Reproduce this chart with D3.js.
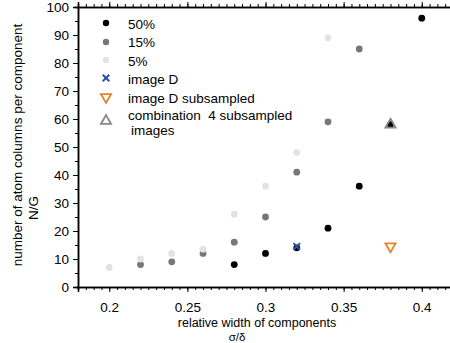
<!DOCTYPE html>
<html>
<head>
<meta charset="utf-8">
<script src="https://cdn.jsdelivr.net/npm/d3@7"></script>
<style>
body { margin: 0; background: #fff; }
text { font-family: "Liberation Sans", Arial, sans-serif; fill: #000; }
</style>
</head>
<body>
<script>
'use strict';

// concentration series: x = relative width, y = N/G
var x50 = [0.28, 0.30, 0.32, 0.34, 0.36, 0.38, 0.40];
var y50 = [8, 12, 14, 21, 36, 58, 96];
var x15 = [0.22, 0.24, 0.26, 0.28, 0.30, 0.32, 0.34, 0.36];
var y15 = [8, 9, 12, 16, 25, 41, 59, 85];
var x5 = [0.20, 0.22, 0.24, 0.26, 0.28, 0.30, 0.32, 0.34];
var y5 = [7, 10, 12, 13.5, 26, 36, 48, 89];

// image measurements
var xImgD = [0.32], yImgD = [14.5];
var xSub = [0.38], ySub = [14.5];
var xComb = [0.38], yComb = [58];

var xTicks = [0.2, 0.25, 0.3, 0.35, 0.4];
var yTicks = [0, 10, 20, 30, 40, 50, 60, 70, 80, 90, 100];

var legendLabels = ['50%', '15%', '5%', 'image D', 'image D subsampled', 'combination  4 subsampled'];

var w = 450, h = 343;
var svg = d3.select('body').append('svg').attr('width', w).attr('height', h);

var x = d3.scaleLinear().domain([0.18, 0.42]).range([78, 453]);
var y = d3.scaleLinear().domain([0, 100]).range([287, 7]);

var minorX = d3.range(0.18, 0.4201, 0.005);
var minorY = d3.range(0, 101, 5);

// bottom axis
var gb = svg.append('g').attr('transform', 'translate(0,287)');
gb.call(d3.axisBottom(x).tickValues(minorX).tickSize(3).tickFormat(''));
var gb2 = svg.append('g').attr('transform', 'translate(0,287)');
gb2.call(d3.axisBottom(x).tickValues(xTicks).tickSize(5).tickPadding(10)
	.tickFormat(function(d) { return String(+d.toFixed(2)); }));

// top axis
var gt = svg.append('g').attr('transform', 'translate(0,7)');
gt.call(d3.axisTop(x).tickValues(minorX).tickSize(3).tickFormat(''));
var gt2 = svg.append('g').attr('transform', 'translate(0,7)');
gt2.call(d3.axisTop(x).tickValues(xTicks).tickSize(5).tickFormat(''));

// left axis
var gl = svg.append('g').attr('transform', 'translate(78,0)');
gl.call(d3.axisLeft(y).tickValues(minorY).tickSize(3).tickFormat(''));
var gl2 = svg.append('g').attr('transform', 'translate(78,0)');
gl2.call(d3.axisLeft(y).tickValues(yTicks).tickSize(5).tickPadding(4));

svg.selectAll('.domain').attr('stroke-width', 1.5);
svg.selectAll('.tick text').style('font-size', '13.5px').attr('fill', '#000');

// titles
svg.append('text').attr('x', 257).attr('y', 327).attr('text-anchor', 'middle')
	.style('font-size', '12.5px').text('relative width of components');
svg.append('text').attr('x', 237).attr('y', 341).attr('text-anchor', 'middle')
	.style('font-size', '11.5px').text('σ/δ');
svg.append('text').attr('transform', 'translate(22,145) rotate(-90)').attr('text-anchor', 'middle')
	.style('font-size', '13.5px').text('number of atom columns per component');
svg.append('text').attr('transform', 'translate(38,208) rotate(-90)').attr('text-anchor', 'middle')
	.style('font-size', '13.5px').text('N/G');

// points
function dots(xs, ys, color) {
	svg.append('g').selectAll('circle')
		.data(xs)
		.enter().append('circle')
		.attr('cx', function(d) { return x(d); })
		.attr('cy', function(d, i) { return y(ys[i]); })
		.attr('r', 3.4)
		.attr('fill', color);
}
dots(x50, y50, '#000');
dots(x15, y15, '#777');
dots(x5, y5, '#e2e2e2');

var cross = d3.symbol().type(d3.symbolX).size(30);
var tri = d3.symbol().type(d3.symbolTriangle).size(45);

svg.append('g').selectAll('path').data(xImgD).enter().append('path')
	.attr('d', cross)
	.attr('transform', function(d, i) { return 'translate(' + x(d) + ',' + y(yImgD[i]) + ')'; })
	.attr('fill', 'none').attr('stroke', '#2c4fa6').attr('stroke-width', 2);

svg.append('g').selectAll('path').data(xSub).enter().append('path')
	.attr('d', tri)
	.attr('transform', function(d, i) { return 'translate(' + x(d) + ',' + y(ySub[i]) + ') rotate(180)'; })
	.attr('fill', 'none').attr('stroke', '#e8822a').attr('stroke-width', 1.8);

svg.append('g').selectAll('path').data(xComb).enter().append('path')
	.attr('d', tri)
	.attr('transform', function(d, i) { return 'translate(' + x(d) + ',' + y(yComb[i]) + ')'; })
	.attr('fill', 'none').attr('stroke', '#888').attr('stroke-width', 1.8);

// legend
var lg = svg.append('g');
var rowY = [23, 42, 60, 78, 97, 121];
var lx = 106;
lg.append('circle').attr('cx', lx).attr('cy', rowY[0]).attr('r', 3.2).attr('fill', '#000');
lg.append('circle').attr('cx', lx).attr('cy', rowY[1]).attr('r', 3.2).attr('fill', '#777');
lg.append('circle').attr('cx', lx).attr('cy', rowY[2]).attr('r', 3.2).attr('fill', '#e2e2e2');
lg.append('path').attr('d', cross).attr('transform', 'translate(' + lx + ',' + rowY[3] + ')')
	.attr('fill', 'none').attr('stroke', '#2c4fa6').attr('stroke-width', 2);
lg.append('path').attr('d', tri).attr('transform', 'translate(' + lx + ',' + rowY[4] + ') rotate(180)')
	.attr('fill', 'none').attr('stroke', '#e8822a').attr('stroke-width', 1.8);
lg.append('path').attr('d', tri).attr('transform', 'translate(' + lx + ',' + rowY[5] + ')')
	.attr('fill', 'none').attr('stroke', '#888').attr('stroke-width', 1.8);

var textY = [29, 47, 66, 84, 103, 120];
lg.selectAll('text.lab').data(legendLabels).enter().append('text')
	.attr('class', 'lab')
	.attr('x', 128)
	.attr('y', function(d, i) { return textY[i]; })
	.style('font-size', '13.5px')
	.style('white-space', 'pre')
	.text(function(d) { return d; });
lg.append('text').attr('x', 131).attr('y', 135).style('font-size', '13.5px').text('images');
</script>
</body>
</html>
